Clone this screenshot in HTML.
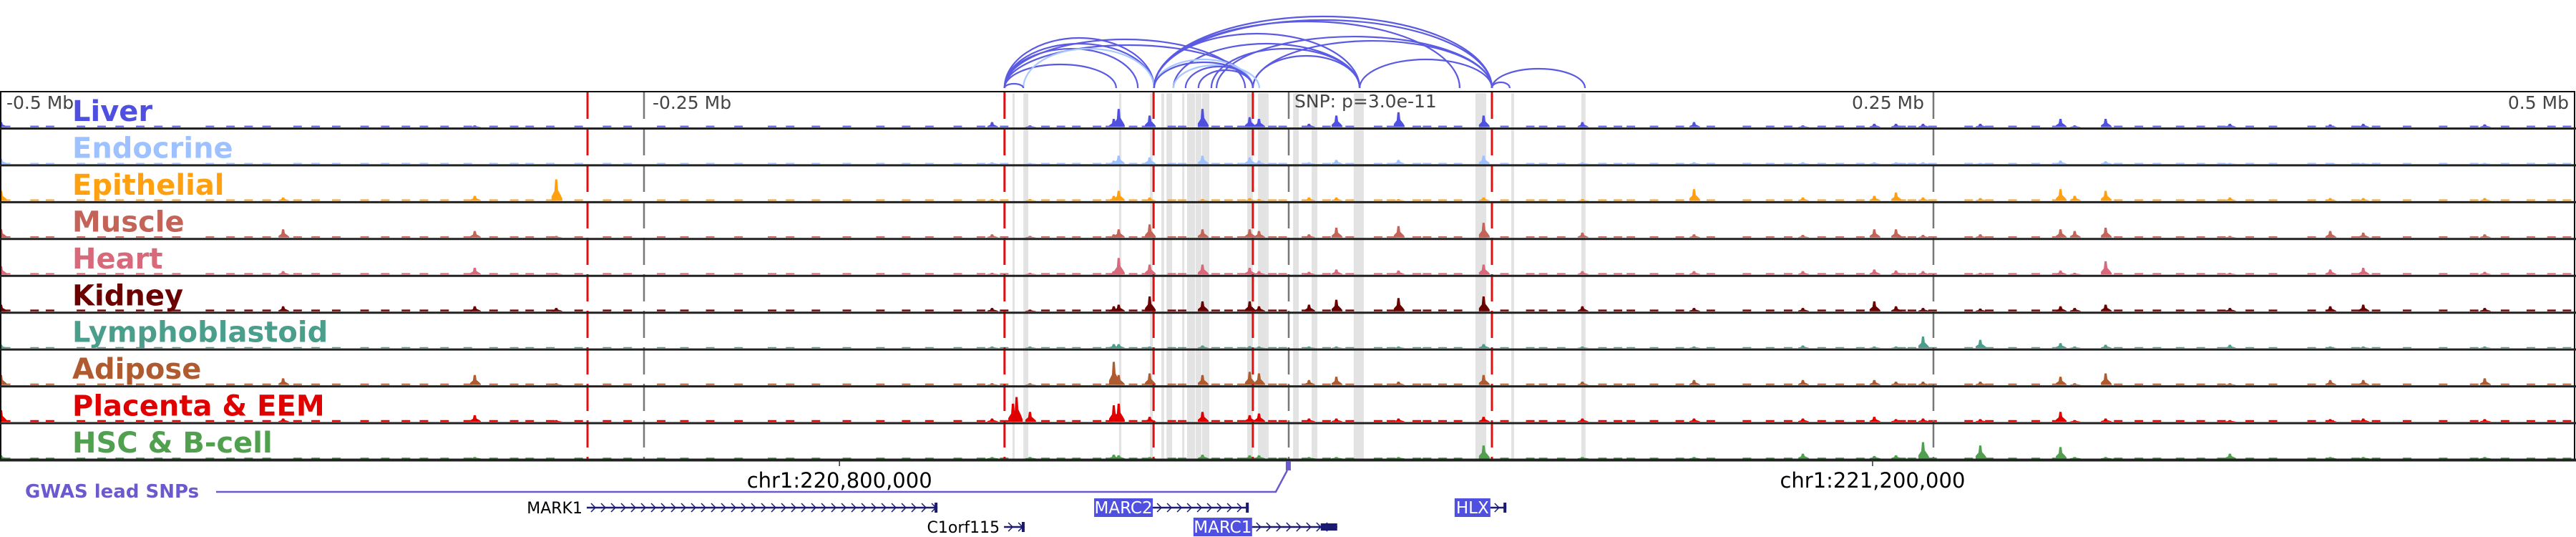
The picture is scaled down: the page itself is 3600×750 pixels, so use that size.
<!DOCTYPE html>
<html><head><meta charset="utf-8"><style>
html,body{margin:0;padding:0;background:#fff;}
svg{display:block;font-family:"DejaVu Sans","Liberation Sans",sans-serif;}
</style></head><body>
<svg id="chart" width="3600" height="750" viewBox="0 0 3600 750" xmlns="http://www.w3.org/2000/svg">
<g id="bands"></g>
<g id="arcs"></g>
<g id="tracks"></g>
<g id="vlines"></g>
<g id="frame"></g>
<g id="labels"></g>
<g id="bottom"></g>
</svg>
<script>
// ---- data ----
const trackNames = ["Liver","Endocrine","Epithelial","Muscle","Heart","Kidney","Lymphoblastoid","Adipose","Placenta & EEM","HSC & B-cell"];
const trackColors = ["#5050e0","#9ec2ff","#ffa010","#c46358","#d8697a","#6a0000","#4a9e8c","#b05a30","#e00000","#50a050"];
const axisTickKb = [-500,-250,250,500];
const axisTickLabels = ["-0.5 Mb","-0.25 Mb","0.25 Mb","0.5 Mb"];
const snpLabel = "SNP: p=3.0e-11";
const coordTickKb = [-174.2, 226.4];
const coordTickLabels = ["chr1:220,800,000","chr1:221,200,000"];
const redLinesKb = [-271.9,-110.2,-52.4,-13.9,78.8];
const bandsKb = [[-107.1,-106.3],[-102.9,-101.0],[-65.8,-64.9],[-53.8,-52.7],[-49.4,-48.3],[-47.4,-45.2],[-41.3,-40.5],[-39.4,-36.3],[-36.1,-33.9],[-33.6,-30.8],[-16.1,-13.9],[-11.9,-7.8],[1.7,3.9],[8.9,11.1],[25.2,29.1],[72.4,76.6],[86.3,87.4],[113.5,115.1]];
// arcs: start kb, end kb, height (fraction of max)
const arcStart = [-110.2,-110.2,-110.2,-110.2,-110.2,-110.2,-102.9,-52.2,-52.2,-52.2,-44.7,-28,-13.9,-13.9,27.5,-52.2,-44.7,-40,-35,78.8,78.8,-110.2,-52.2,-52.2,-30];
const arcEnd   = [-52.2,-52.2,-58.5,-66.9,-16.9,-13.9,-52.2,78.8,66.3,27.5,27.5,78.8,78.8,27.5,78.8,-13.9,-11.4,-13.9,-13.9,114.9,85.7,-102.9,-13.9,78.8,27.5];
const arcHeight= [0.70,0.62,0.55,0.33,0.68,0.60,0.55,1.00,0.93,0.76,0.62,0.72,0.66,0.45,0.40,0.40,0.32,0.30,0.25,0.27,0.08,0.06,0.36,0.95,0.55];
const arcLight = [0,0,0,0,0,0,1,0,0,0,0,0,0,0,0,1,1,0,0,0,0,0,0,0,0];
// shared low-level accessible regions (kb)
const baseKb = [-499,-488,-482,-470,-462,-455,-447,-440,-433,-420,-412,-405,-398,-386,-379,-371,-360,-352,-344,-337,-329,-320,-310,-302,-296,-288,-277,-266,-258,-245,-236,-226,-215,-202,-195,-185,-173,-160,-150,-141,-130,-121,-112,-96,-90,-84,-76,-71,-62,-57,-47,-43,-30,-25,-20,-8,-4,5,13,22,33,38,48,52,58,64,82,92,97,104,120,126,131,140,150,162,176,185,192,205,212,220,236,240,248,262,270,279,288,296,320,328,335,344,352,360,371,380,395,402,412,420,432,446,458,470,480,488,494];
const baseLevel = [0.04,0.03,0.04,0.04,0.04,0.05,0.03,0.04,0.05,0.03];
// peaks: kb positions and per-track heights (fraction of track height)
const peakKb = [-499.2,-389.8,-315.5,-283.9,-114.9,-106.8,-105.4,-100.2,-67.7,-65.8,-53.8,-33.3,-15.0,-11.4,8.0,18.6,42.7,75.7,114.0,157.3,199.5,227.2,235.6,246.1,268.3,299.4,304.9,316.9,365.1,404.0,416.8,463.9];
const liverVals    = [0.15,0,0.05,0,0.15,0,0,0.05,0.25,0.55,0.35,0.55,0.3,0.25,0.1,0.35,0.45,0.35,0.15,0.15,0.05,0.1,0.1,0.1,0.1,0.25,0.05,0.25,0.1,0.08,0.1,0.08];
const endoVals     = [0.15,0,0,0,0.05,0,0,0.03,0.1,0.25,0.2,0.25,0.2,0.1,0.05,0.12,0.12,0.25,0.05,0.05,0.05,0.05,0.05,0.05,0.03,0.1,0,0.08,0.03,0.03,0.03,0.03];
const epiVals      = [0.3,0.1,0.15,0.65,0.05,0,0,0.05,0.15,0.3,0.1,0.05,0.08,0.05,0.1,0.1,0.05,0.1,0.05,0.35,0.1,0.15,0.25,0.1,0.08,0.35,0.15,0.3,0.1,0.08,0.08,0.08];
const muscleVals   = [0.25,0.25,0.2,0.05,0.1,0,0,0.05,0.1,0.25,0.4,0.25,0.25,0.2,0.1,0.3,0.35,0.45,0.15,0.1,0.08,0.25,0.25,0.08,0.1,0.25,0.2,0.3,0.05,0.2,0.15,0.1];
const heartVals    = [0.25,0.1,0.2,0.05,0.05,0,0,0.05,0.1,0.5,0.3,0.3,0.2,0.1,0.08,0.15,0.12,0.3,0.1,0.1,0.1,0.15,0.12,0.1,0.05,0.12,0.05,0.4,0.05,0.15,0.2,0.08];
const kidneyVals   = [0.2,0.15,0.15,0.1,0.1,0,0,0.05,0.15,0.2,0.45,0.3,0.3,0.15,0.2,0.35,0.4,0.45,0.15,0.1,0.1,0.3,0.15,0.1,0.08,0.15,0.1,0.2,0.1,0.15,0.2,0.1];
const lymphVals    = [0.1,0,0,0,0.05,0,0,0.05,0.12,0.12,0.05,0.08,0.06,0.05,0.05,0.05,0.05,0.12,0.05,0.05,0.08,0.05,0.05,0.35,0.25,0.15,0.05,0.1,0.1,0.05,0.05,0.05];
const adiposeVals  = [0.3,0.2,0.3,0.05,0.05,0,0,0.05,0.7,0.3,0.35,0.3,0.4,0.35,0.15,0.25,0.1,0.3,0.1,0.15,0.15,0.15,0.1,0.1,0.1,0.25,0.05,0.35,0.05,0.15,0.15,0.2];
const placentaVals = [0.35,0.1,0.2,0.05,0.1,0.55,0.75,0.3,0.5,0.55,0.15,0.3,0.2,0.25,0.1,0.1,0.1,0.15,0.1,0.1,0.1,0.15,0.08,0.1,0.08,0.3,0.05,0.1,0.05,0.08,0.1,0.08];
const hscVals      = [0.1,0,0.05,0,0.05,0,0,0.05,0.12,0.1,0.05,0.12,0.1,0.1,0.05,0.05,0.05,0.4,0.05,0.05,0.15,0.08,0.1,0.5,0.4,0.35,0.05,0.05,0.15,0.05,0.05,0.05];
const trackVals = [liverVals,endoVals,epiVals,muscleVals,heartVals,kidneyVals,lymphVals,adiposeVals,placentaVals,hscVals];
// genes (line start/end in kb; boxed genes have their label box left of start)
const geneNames  = ["MARK1","C1orf115","MARC2","MARC1","HLX"];
const geneStartKb= [-272.2,-110.4,-52.7,-14.2,78.2];
const geneEndKb  = [-136.2,-102.4,-15.5,18.8,84.4];
const geneRow    = [0,1,0,1,0];
const geneBoxed  = [0,0,1,1,1];
const snpKb = [-0.3];

// ---- scales ----
const X0 = 1801, PXKB = 3.604;
const xs = kb => X0 + kb*PXKB;
const TOP = 128, TH = 51.45, LEFT = 1, RIGHT = 3598;
const NS = "http://www.w3.org/2000/svg";
function mk(tag, attrs, parent){ const e=document.createElementNS(NS,tag); for(const k in attrs) e.setAttribute(k,attrs[k]); parent.appendChild(e); return e; }
const g = id => document.getElementById(id);

// bands
bandsKb.forEach(b=>{
  const r = mk('rect',{x:xs(b[0]),y:TOP+2,width:Math.max(3,xs(b[1])-xs(b[0])),height:TH*10-4,fill:'#e3e3e3'},g('bands'));
  
  
});

// arcs
const ARC_BASE = 123, ARC_MAX = 100;
arcStart.forEach((s,i)=>{
  const x1=xs(s), x2=xs(arcEnd[i]); const h=arcHeight[i]*ARC_MAX;
  const rx=Math.abs(x2-x1)/2;
  const p = mk('path',{d:`M${x1},${ARC_BASE} A${rx},${h} 0 0 1 ${x2},${ARC_BASE}`,fill:'none',stroke:arcLight[i]?'#a8c8ff':'#5a5ae2','stroke-width':2.2},g('arcs'));
  
  
});

// tracks
const MAXH = 46;
trackNames.forEach((name,t)=>{
  const bot = TOP + TH*(t+1) - 2;
  const col = trackColors[t];
  const tg = mk('g',{},g('tracks'));
  
  
  baseKb.forEach(k=>{
    const hh = baseLevel[t]*MAXH;
    mk('rect',{x:xs(k),y:bot-hh,width:12,height:hh,fill:col},tg);
  });
  peakKb.forEach((k,i)=>{
    const v = trackVals[t][i]; if(!v) return;
    const h = v*MAXH, cx = xs(k);
    const pk = mk('path',{d:`M${cx-7},${bot} L${cx-7},${bot-h*0.2} L${cx-3},${bot-h*0.45} L${cx-2},${bot-h} L${cx+1},${bot-h} L${cx+2},${bot-h*0.5} L${cx+6},${bot-h*0.25} L${cx+8},${bot-h*0.1} L${cx+8},${bot} Z`,fill:col},tg);
    
    
  });
});

// vertical marker lines
redLinesKb.forEach(k=>{
  const l = mk('line',{x1:xs(k),x2:xs(k),y1:TOP,y2:TOP+TH*10,stroke:'#e01010','stroke-width':3,'stroke-dasharray':'38 13'},g('vlines'));
  
  
});
[-250,0,250].forEach(k=>{
  const l = mk('line',{x1:xs(k),x2:xs(k),y1:TOP,y2:TOP+TH*10,stroke:'#777','stroke-width':2.5,'stroke-dasharray':'38 13'},g('vlines'));
  
  
});

// frame
mk('rect',{x:LEFT,y:TOP,width:RIGHT-LEFT,height:TH*10,fill:'none',stroke:'#111','stroke-width':2},g('frame'));
for(let t=1;t<=10;t++){
  mk('line',{x1:0,x2:3600,y1:TOP+TH*t,y2:TOP+TH*t,stroke:'#222','stroke-width':t===10?4:3},g('frame'));
}

// labels
trackNames.forEach((name,t)=>{
  const tx = mk('text',{x:101,y:TOP+TH*t+41,'font-size':40,'font-weight':'bold',fill:trackColors[t]},g('labels'));
  tx.textContent = name;
  
  
});
axisTickKb.forEach((k,i)=>{
  const anchor = (k<0)?'start':'end';
  const x = k===-500?9:(k===-250?xs(k)+12:(k===500?3590:xs(k)-13));
  const tx = mk('text',{x:x,y:152,'font-size':25,fill:'#444','text-anchor':anchor},g('labels'));
  tx.textContent = axisTickLabels[i];
  
  
});
{
  const tx = mk('text',{x:xs(0)+8,y:150,'font-size':25,fill:'#444'},g('labels'));
  tx.textContent = snpLabel;
  
  
}

// bottom annotation
const B = g('bottom');
coordTickKb.forEach((k,i)=>{
  mk('line',{x1:xs(k),x2:xs(k),y1:TOP+TH*10,y2:651,stroke:'#333','stroke-width':1.5},B);
  const tx = mk('text',{x:xs(k),y:681,'font-size':29,fill:'#000','text-anchor':'middle'},B);
  tx.textContent = coordTickLabels[i];
  
  
});
{
  const tx = mk('text',{x:35,y:695,'font-size':26,'font-weight':'bold',fill:'#6a5acd'},B);
  tx.textContent = 'GWAS lead SNPs';
  
  
  const sx = xs(snpKb[0]);
  const p = mk('path',{d:`M302,687 L${sx-17},687 L${sx-1},657`,fill:'none',stroke:'#6a5acd','stroke-width':2.5},B);
  
  
  const m = mk('rect',{x:sx-3,y:644,width:7,height:13,fill:'#6a5acd'},B);
  
  
}
geneNames.forEach((name,i)=>{
  const gg = mk('g',{},B);
  
  
  const cy = geneRow[i]===0?709:736;
  const x1 = xs(geneStartKb[i]), x2 = xs(geneEndKb[i]);
  if(geneBoxed[i]){
    const w = name.length*16;
    mk('rect',{x:x1-w-2,y:cy-13,width:w+2,height:26,fill:'#5050e0'},gg);
    const t = mk('text',{x:x1-w/2-1,y:cy+8,'font-size':23,fill:'#fff','text-anchor':'middle'},gg);
    t.textContent = name;
  } else {
    const t = mk('text',{x:x1-6,y:cy+8,'font-size':22,fill:'#000','text-anchor':'end'},gg);
    t.textContent = name;
  }
  mk('line',{x1:x1,x2:x2,y1:cy,y2:cy,stroke:'#1a1a70','stroke-width':2.5},gg);
  const big = name==='MARC1';
  mk('rect',{x:x2-(big?23:4),y:cy-(big?5:7),width:big?23:4,height:big?10:14,fill:'#1a1a70'},gg);
  const step = 14;
  for(let ax=x1+6; ax<x2-8; ax+=step){
    mk('path',{d:`M${ax},${cy-6} L${ax+6},${cy} L${ax},${cy+6}`,fill:'none',stroke:'#1a1a70','stroke-width':1.5},gg);
  }
});
</script>
</body></html>
